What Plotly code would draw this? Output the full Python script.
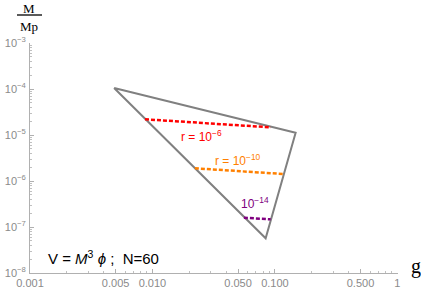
import plotly.graph_objects as go
import numpy as np

# ---- data ----
triangle_g = [0.00486, 0.1476, 0.084, 0.00486]
triangle_M = [1.05e-4, 1.12e-5, 5.7e-8, 1.05e-4]

r6_g = [0.00869, 0.0927]
r6_M = [2.19e-5, 1.47e-5]
r10_g = [0.0222, 0.117]
r10_M = [1.89e-6, 1.42e-6]
r14_g = [0.0558, 0.0923]
r14_M = [1.59e-7, 1.47e-7]

x_tickvals = [0.001, 0.005, 0.01, 0.05, 0.1, 0.5, 1]
x_ticktext = ["0.001", "0.005", "0.010", "0.050", "0.100", "0.500", "1"]
y_tickvals = [1e-8, 1e-7, 1e-6, 1e-5, 1e-4, 1e-3]
y_ticktext = ["10<sup>−8</sup>", "10<sup>−7</sup>", "10<sup>−6</sup>",
              "10<sup>−5</sup>", "10<sup>−4</sup>", "10<sup>−3</sup>"]

x_minor = [m * 10.0**e for e in range(-3, 0) for m in range(2, 10)]
y_minor = [m * 10.0**e for e in range(-8, -3) for m in range(2, 10)]

fig = go.Figure()
fig.add_trace(go.Scatter(x=triangle_g, y=triangle_M, mode="lines",
                         line=dict(color="#808080", width=2), showlegend=False))
for gx, my, col in [(r6_g, r6_M, "#ff0000"), (r10_g, r10_M, "#ff8000"), (r14_g, r14_M, "#800080")]:
    fig.add_trace(go.Scatter(x=gx, y=my, mode="lines",
                             line=dict(color=col, width=2.5, dash="4px,2px"), showlegend=False))

L, R, T, B = 30, 23, 43, 21
W, H = 421, 294
pw, ph = W - L - R, H - T - B

def px(x):
    return (x - L) / pw

def py(y):
    return (H - B - y) / ph

tickfont = dict(family="Liberation Sans, Arial, sans-serif", size=11, color="#8a8a8a")
fig.update_xaxes(type="log", range=[-3, 0.005], tickvals=x_tickvals, ticktext=x_ticktext,
                 showgrid=False, zeroline=False, showline=True, linecolor="#b0b0b0", linewidth=1,
                 ticks="inside", ticklen=4, tickcolor="#b0b0b0", tickfont=tickfont, automargin=False,
                 minor=dict(tickvals=x_minor, ticks="inside", ticklen=2, tickcolor="#c0c0c0", showgrid=False))
fig.update_yaxes(type="log", range=[-8, -3], tickvals=y_tickvals, ticktext=y_ticktext,
                 showgrid=False, zeroline=False, showline=True, linecolor="#b0b0b0", linewidth=1,
                 ticks="inside", ticklen=4, tickcolor="#b0b0b0", tickfont=tickfont, automargin=False,
                 ticklabelstandoff=1,
                 minor=dict(tickvals=y_minor, ticks="inside", ticklen=2, tickcolor="#c0c0c0", showgrid=False))

lab_font = "Liberation Sans, Arial, sans-serif"
ann = [
    dict(x=px(201), y=py(136), text="r = 10<sup>−6</sup>", font=dict(color="#ff0000", size=12, family=lab_font)),
    dict(x=px(238), y=py(160), text="r = 10<sup>−10</sup>", font=dict(color="#ff8000", size=12, family=lab_font)),
    dict(x=px(255), y=py(203), text="10<sup>−14</sup>", font=dict(color="#800080", size=12, family=lab_font)),
    dict(x=px(103), y=py(257), text="V = <i>M</i><sup>3</sup> <i>ϕ</i> ;  N=60", font=dict(color="black", size=15, family=lab_font)),
    dict(x=px(29), y=py(8), text="M", font=dict(color="black", size=13, family="Liberation Serif, serif")),
    dict(x=px(29), y=py(27), text="Mp", font=dict(color="black", size=13, family="Liberation Serif, serif")),
]
for a in ann:
    a.update(xref="paper", yref="paper", showarrow=False, xanchor="center", yanchor="middle")
    fig.add_annotation(**a)
fig.add_annotation(x=px(409), y=py(266), text="g", xref="paper", yref="paper", showarrow=False,
                   xanchor="left", yanchor="middle",
                   font=dict(color="black", size=20, family="Liberation Serif, serif"))

fig.add_shape(type="line", xref="paper", yref="paper", x0=px(17), x1=px(42), y0=py(15), y1=py(15),
              line=dict(color="black", width=1.3))

fig.update_layout(width=W, height=H, margin=dict(l=L, r=R, t=T, b=B, autoexpand=False),
                  plot_bgcolor="white", paper_bgcolor="white")
fig.write_html("out.html", config={"displayModeBar": False},
               post_script="document.body.style.margin='0';document.body.style.overflow='hidden';")
